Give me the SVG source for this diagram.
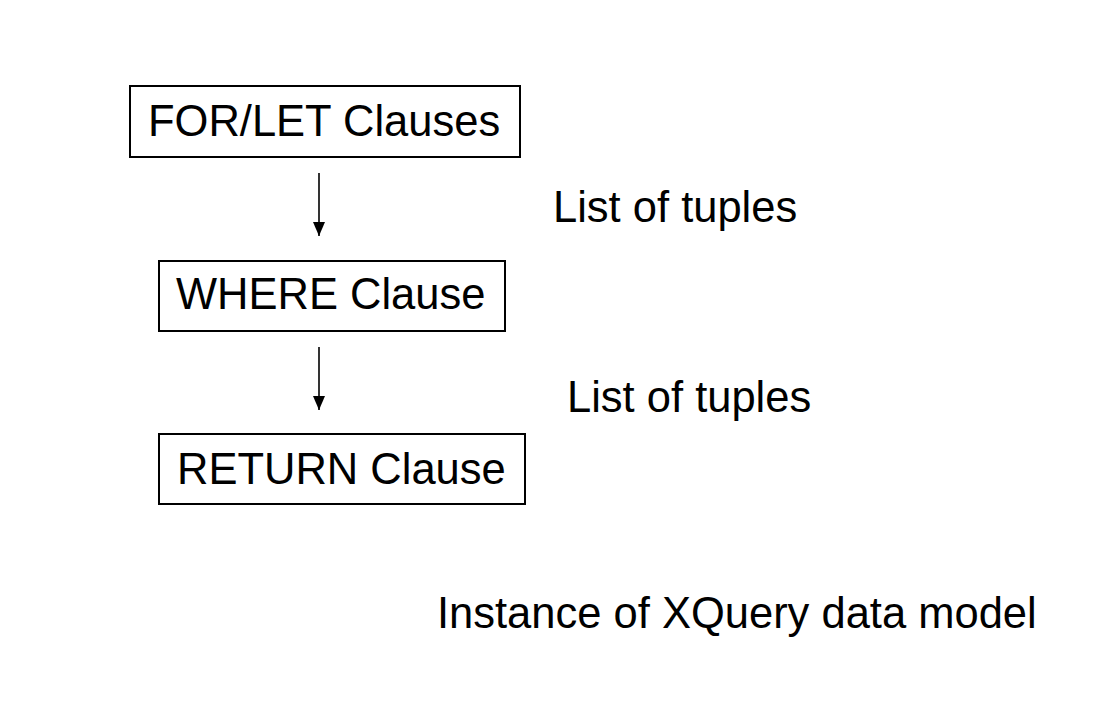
<svg xmlns="http://www.w3.org/2000/svg" width="1100" height="706" viewBox="0 0 1100 706">
<style>
.box{fill:#fff;stroke:#000;stroke-width:2}
.t{font-family:"Liberation Sans",Arial,sans-serif;font-size:43.5px;fill:#000}
.c{stroke:#000;stroke-width:1.6;fill:none}
</style>
<defs>
<marker id="ah" viewBox="0 0 14 12" refX="14" refY="6" markerWidth="14" markerHeight="12" markerUnits="userSpaceOnUse" orient="auto">
<path d="M0,0 L14,6 L0,12 Z" fill="#000"/>
</marker>
</defs>
<rect width="1100" height="706" fill="#fff"/>
<g id="connectors">
<line class="c" x1="319" y1="173" x2="319" y2="236" marker-end="url(#ah)"/>
<line class="c" x1="319" y1="347" x2="319" y2="410" marker-end="url(#ah)"/>
</g>
<g id="forlet">
<rect class="box" x="130" y="86" width="390" height="71"/>
<text class="t" x="148" y="136">FOR/LET Clauses</text>
</g>
<g id="where">
<rect class="box" x="159" y="261" width="346" height="70"/>
<text class="t" x="176" y="309">WHERE Clause</text>
</g>
<g id="return">
<rect class="box" x="159" y="434" width="366" height="70"/>
<text class="t" x="177" y="484">RETURN Clause</text>
</g>
<text class="t" x="553" y="222">List of tuples</text>
<text class="t" x="567" y="412">List of tuples</text>
<text class="t" x="437" y="628">Instance of XQuery data model</text>
</svg>
